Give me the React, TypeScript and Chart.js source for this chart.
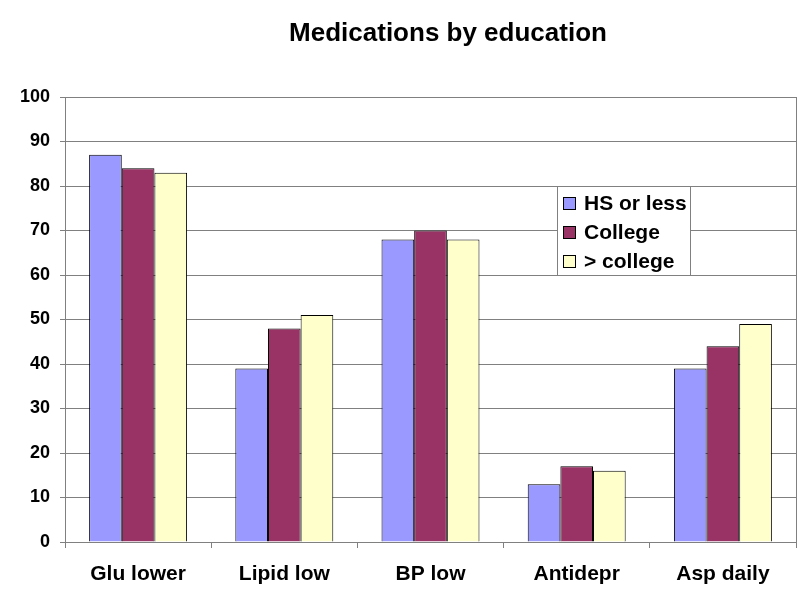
import React, { useEffect, useRef } from "react";
import { Chart, registerables } from "chart.js";

Chart.register(...registerables);

const categories = ["Glu lower", "Lipid low", "BP low", "Antidepr", "Asp daily"];
const hsOrLess = [87, 39, 68, 13, 39];
const college = [84, 48, 70, 17, 44];
const aboveCollege = [83, 51, 68, 16, 49];
const seriesLabels = ["HS or less", "College", "> college"];
const yTicks = [0, 10, 20, 30, 40, 50, 60, 70, 80, 90, 100];
const titleText = "Medications by education";

const FONT = "'Liberation Sans', Arial, sans-serif";

const decorPlugin = {
  id: "decor",
  afterDraw(chart: any) {
    const ctx = chart.ctx;
    const area = chart.chartArea;
    ctx.save();
    // right border
    ctx.strokeStyle = "#808080";
    ctx.lineWidth = 1;
    ctx.beginPath();
    ctx.moveTo(Math.round(area.right) + 0.5, area.top);
    ctx.lineTo(Math.round(area.right) + 0.5, area.bottom);
    ctx.stroke();
    // title
    ctx.fillStyle = "#000";
    ctx.font = `bold 26px ${FONT}`;
    ctx.textAlign = "center";
    ctx.textBaseline = "middle";
    ctx.fillText(titleText, 448, 34);
    // legend
    const lx = 557, ly = 186, lw = 133, lh = 89;
    ctx.fillStyle = "#fff";
    ctx.fillRect(lx, ly, lw, lh);
    ctx.strokeStyle = "#808080";
    ctx.strokeRect(lx + 0.5, ly + 0.5, lw, lh);
    ctx.font = `bold 21px ${FONT}`;
    ctx.textAlign = "left";
    chart.data.datasets.forEach((ds: any, i: number) => {
      const cy = 203 + i * 29;
      ctx.fillStyle = ds.backgroundColor;
      ctx.fillRect(563, cy - 6, 13, 13);
      ctx.strokeStyle = "#000";
      ctx.strokeRect(563.5, cy - 5.5, 12, 12);
      ctx.fillStyle = "#000";
      ctx.fillText(ds.label, 584, cy + 1);
    });
    ctx.restore();
  },
};

export default function App() {
  const ref = useRef<HTMLCanvasElement>(null);
  useEffect(() => {
    const mk = (label: string, data: number[], color: string) => ({
      label,
      data,
      backgroundColor: color,
      borderColor: "#000",
      borderWidth: 1,
      categoryPercentage: 0.67,
      barPercentage: 1.0,
    });
    const chart = new Chart(ref.current!, {
      type: "bar",
      data: {
        labels: categories,
        datasets: [
          mk(seriesLabels[0], hsOrLess, "#9999FF"),
          mk(seriesLabels[1], college, "#993366"),
          mk(seriesLabels[2], aboveCollege, "#FFFFCC"),
        ],
      },
      options: {
        animation: false,
        responsive: false,
        maintainAspectRatio: false,
        layout: { padding: { top: 97, right: 14, left: 0, bottom: 0 } },
        plugins: {
          legend: { display: false },
          title: { display: false },
          tooltip: { enabled: false },
        },
        scales: {
          x: {
            grid: {
              drawOnChartArea: false,
              drawTicks: true,
              tickLength: 6,
              color: "#808080",
              offset: true,
            },
            border: { color: "#808080" },
            ticks: {
              color: "#000",
              font: { family: FONT, size: 21, weight: "bold" },
              padding: 14,
              maxRotation: 0,
            },
            afterFit(scale: any) {
              scale.height = 58;
            },
          },
          y: {
            min: 0,
            max: 100,
            afterBuildTicks(scale: any) {
              scale.ticks = yTicks.map((v) => ({ value: v }));
            },
            grid: {
              color: "#808080",
              drawTicks: true,
              tickLength: 5,
            },
            border: { color: "#808080" },
            ticks: {
              color: "#000",
              font: { family: FONT, size: 18, weight: "bold" },
              padding: 10,
            },
            afterFit(scale: any) {
              scale.width = 65;
            },
          },
        },
      },
      plugins: [decorPlugin],
    } as any);
    return () => chart.destroy();
  }, []);
  return (
    <div style={{ position: "fixed", left: 0, top: 0, width: 810, height: 600, background: "#fff" }}>
      <canvas ref={ref} width={810} height={600} style={{ width: 810, height: 600 }} />
    </div>
  );
}
